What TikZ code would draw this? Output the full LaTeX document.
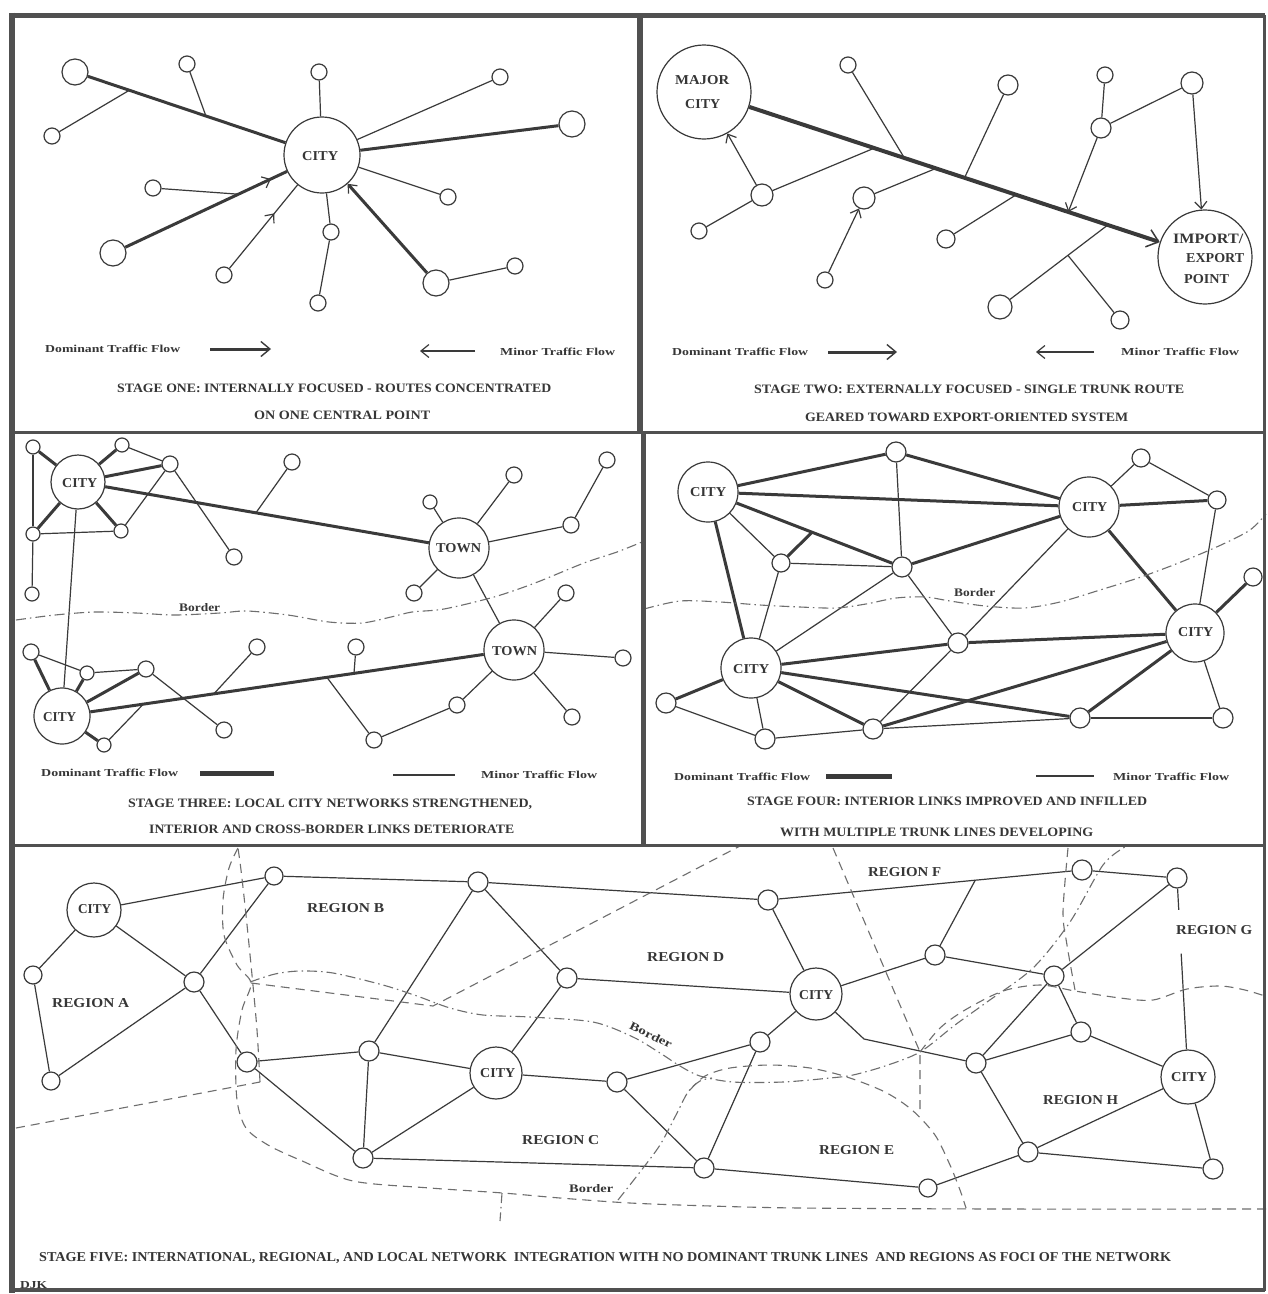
\documentclass[tikz,border=0pt]{standalone}
\usepackage{fontspec}
\setmainfont{Liberation Serif}
\usepackage{graphicx}
\usetikzlibrary{arrows.meta,decorations.markings,calc}
\definecolor{ink}{HTML}{3A3A3A}
\definecolor{framec}{HTML}{505050}
\definecolor{dashc}{HTML}{6E6E6E}
\definecolor{txtc}{HTML}{363636}
\newcommand\fitt[3]{\resizebox{#1pt}{#2pt}{\bfseries #3}}
\newcommand\fitr[3]{\resizebox{#1pt}{#2pt}{#3}}
\begin{document}
\begin{tikzpicture}[x=1pt,y=-1pt,
  mn/.style={draw=ink, line width=1.2pt},
  mj/.style={draw=ink, line width=3pt},
  tk/.style={draw=ink, line width=4pt},
  nd/.style={circle, draw=ink, line width=1.2pt, fill=white, inner sep=0pt, minimum size=#1},
  lab/.style={anchor=base west, inner sep=0pt, text=txtc},
  barb/.style={-{Straight Barb[length=7pt,width=12pt,line width=1.2pt]}},
  midarr/.style={postaction={decorate}, decoration={markings, mark=at position #1 with {\arrow{Straight Barb[length=7pt,width=12pt,line width=1.2pt]}}}},
  regb/.style={draw=dashc, line width=1.1pt, dash pattern=on 9pt off 6pt},
  bord/.style={draw=dashc, line width=1.1pt, dash pattern=on 10pt off 4pt on 1.5pt off 4pt},
]
\useasboundingbox (0,0) rectangle (1268,1294);
\fill[white] (0,0) rectangle (1268,1294);

% ================= PANEL 1 =================
\node[nd=76pt] (p1city) at (322,155) {};
\node[lab] (p1cityL) at (302,160.5) {\fitt{36}{9}{CITY}};
\node[nd=26pt] (n1a) at (75,72) {};
\node[nd=16pt] (n1b) at (52,136) {};
\node[nd=16pt] (n1c) at (187,64) {};
\node[nd=16pt] (n1d) at (319,72) {};
\node[nd=16pt] (n1e) at (500,77) {};
\node[nd=26pt] (n1f) at (572,124) {};
\node[nd=16pt] (n1g) at (153,188) {};
\node[nd=26pt] (n1h) at (113,253) {};
\node[nd=16pt] (n1i) at (224,275) {};
\node[nd=16pt] (n1j) at (331,232) {};
\node[nd=16pt] (n1k) at (318,303) {};
\node[nd=26pt] (n1l) at (436,283) {};
\node[nd=16pt] (n1m) at (515,266) {};
\node[nd=16pt] (n1n) at (448,197) {};
\coordinate (j1a) at ($(n1a)!0.22!(p1city)$);
\coordinate (j1b) at ($(n1a)!0.53!(p1city)$);
\coordinate (j1g) at ($(n1h)!0.6!(p1city)$);
\draw[mj] (n1a) -- (p1city);
\draw[mn] (n1b) -- (j1a);
\draw[mn] (n1c) -- (j1b);
\draw[mn] (n1d) -- (p1city);
\draw[mn] (n1e) -- (p1city);
\draw[mj] (n1f) -- (p1city);
\draw[mn] (n1g) -- (j1g);
\draw[mj, midarr=0.9] (n1h) -- (p1city);
\draw[mn, midarr=0.66] (n1i) -- (p1city);
\draw[mn] (p1city) -- (n1j);
\draw[mn] (n1j) -- (n1k);
\draw[mj, barb] (n1l) -- (p1city);
\draw[mn] (n1l) -- (n1m);
\draw[mn] (n1n) -- (p1city);
% legend
\node[lab] (l1a) at (45,352.75) {\fitr{135}{7.5}{\bfseries Dominant Traffic Flow}};
\coordinate (l1s) at (210,349); \coordinate (l1e) at (271,349);
\draw[mj, -{Straight Barb[length=9pt,width=15pt,line width=1.4pt]}] (l1s) -- (l1e);
\coordinate (l1ms) at (475,351); \coordinate (l1me) at (420,351);
\draw[mn, -{Straight Barb[length=8pt,width=13pt,line width=1.2pt]}] (l1ms) -- (l1me);
\node[lab] (l1b) at (500,355.75) {\fitr{115}{7.5}{\bfseries Minor Traffic Flow}};
\node[lab] (t1a) at (117,392.25) {\fitt{434}{8.5}{STAGE ONE: INTERNALLY FOCUSED - ROUTES CONCENTRATED}};
\node[lab] (t1b) at (254,419.25) {\fitt{176}{8.5}{ON ONE CENTRAL POINT}};

% ================= PANEL 2 =================
\node[nd=94pt] (p2maj) at (704,92) {};
\node[nd=94pt] (p2imp) at (1205,257) {};
\node[lab] (p2majA) at (675,84.5) {\fitt{54}{9}{MAJOR}};
\node[lab] (p2majB) at (685,108.5) {\fitt{35}{9}{CITY}};
\node[lab] (p2impA) at (1173,243.5) {\fitt{70}{9.5}{IMPORT/}};
\node[lab] (p2impB) at (1186,262.5) {\fitt{58}{9}{EXPORT}};
\node[lab] (p2impC) at (1184,283.5) {\fitt{45}{9}{POINT}};
\node[nd=16pt] (n2a) at (848,65) {};
\node[nd=20pt] (n2b) at (1008,85) {};
\node[nd=16pt] (n2c) at (1105,75) {};
\node[nd=20pt] (n2d) at (1101,128) {};
\node[nd=22pt] (n2e) at (1192,83) {};
\node[nd=22pt] (n2f) at (762,195) {};
\node[nd=16pt] (n2g) at (699,231) {};
\node[nd=22pt] (n2h) at (864,198) {};
\node[nd=16pt] (n2i) at (825,280) {};
\node[nd=18pt] (n2j) at (946,239) {};
\node[nd=24pt] (n2k) at (1000,307) {};
\node[nd=18pt] (n2l) at (1120,320) {};
\coordinate (j2a) at ($(p2maj)!0.40!(p2imp)$);
\coordinate (j2b) at ($(p2maj)!0.52!(p2imp)$);
\coordinate (j2f) at ($(p2maj)!0.34!(p2imp)$);
\coordinate (j2h) at ($(p2maj)!0.463!(p2imp)$);
\coordinate (j2j) at ($(p2maj)!0.623!(p2imp)$);
\coordinate (j2k) at ($(p2maj)!0.806!(p2imp)$);
\coordinate (j2d) at ($(p2maj)!0.727!(p2imp)$);
\coordinate (j2l) at ($(n2k)!0.63!(j2k)$);
\draw[tk, -{Straight Barb[length=11pt,width=18pt,line width=1.5pt]}] (p2maj) -- (p2imp);
\draw[mn] (n2a) -- (j2a);
\draw[mn] (n2b) -- (j2b);
\draw[mn] (n2c) -- (n2d);
\draw[mn] (n2d) -- (n2e);
\draw[mn, barb] (n2e) -- (p2imp);
\draw[mn, barb] (n2d) -- (j2d);
\draw[mn] (n2f) -- (j2f);
\draw[mn, barb] (n2f) -- (p2maj);
\draw[mn] (n2g) -- (n2f);
\draw[mn] (n2h) -- (j2h);
\draw[mn, barb] (n2i) -- (n2h);
\draw[mn] (n2j) -- (j2j);
\draw[mn] (n2k) -- (j2k);
\draw[mn] (n2l) -- (j2l);
% legend
\node[lab] (l2a) at (672,355.75) {\fitr{136}{7.5}{\bfseries Dominant Traffic Flow}};
\coordinate (l2s) at (828,352); \coordinate (l2e) at (897,352);
\draw[mj, -{Straight Barb[length=9pt,width=15pt,line width=1.4pt]}] (l2s) -- (l2e);
\coordinate (l2ms) at (1094,352); \coordinate (l2me) at (1036,352);
\draw[mn, -{Straight Barb[length=8pt,width=13pt,line width=1.2pt]}] (l2ms) -- (l2me);
\node[lab] (l2b) at (1121,355.75) {\fitr{118}{7.5}{\bfseries Minor Traffic Flow}};
\node[lab] (t2a) at (754,393.25) {\fitt{430}{8.5}{STAGE TWO: EXTERNALLY FOCUSED - SINGLE TRUNK ROUTE}};
\node[lab] (t2b) at (805,421.25) {\fitt{323}{8.5}{GEARED TOWARD EXPORT-ORIENTED SYSTEM}};

% ================= PANEL 3 =================
\node[nd=54pt] (p3c1) at (78,482) {};
\node[nd=56pt] (p3c2) at (62,716) {};
\node[nd=60pt] (p3t1) at (459,548) {};
\node[nd=60pt] (p3t2) at (514,650) {};
\node[lab] (p3c1L) at (62,487.5) {\fitt{35}{9}{CITY}};
\node[lab] (p3c2L) at (43,721.5) {\fitt{33}{9}{CITY}};
\node[lab] (p3t1L) at (436,552.5) {\fitt{45}{9}{TOWN}};
\node[lab] (p3t2L) at (492,655.5) {\fitt{45}{9}{TOWN}};
\node[nd=14pt] (s1) at (33,447) {};
\node[nd=14pt] (s2) at (122,445) {};
\node[nd=16pt] (s3) at (170,464) {};
\node[nd=14pt] (s4) at (33,534) {};
\node[nd=14pt] (s5) at (121,531) {};
\node[nd=14pt] (s6) at (32,594) {};
\node[nd=16pt] (s7) at (292,462) {};
\node[nd=16pt] (s8) at (234,557) {};
\node[nd=14pt] (s9) at (430,502) {};
\node[nd=16pt] (s10) at (514,475) {};
\node[nd=16pt] (s11) at (571,525) {};
\node[nd=16pt] (s12) at (607,460) {};
\node[nd=16pt] (s13) at (414,593) {};
\node[nd=16pt] (s14) at (566,593) {};
\node[nd=16pt] (s15) at (623,658) {};
\node[nd=16pt] (s16) at (572,717) {};
\node[nd=16pt] (s17) at (457,705) {};
\node[nd=16pt] (s18) at (374,740) {};
\node[nd=16pt] (s19) at (356,647) {};
\node[nd=16pt] (s20) at (31,652) {};
\node[nd=14pt] (s21) at (87,673) {};
\node[nd=16pt] (s22) at (146,669) {};
\node[nd=14pt] (s23) at (104,745) {};
\node[nd=16pt] (s24) at (224,730) {};
\node[nd=16pt] (s25) at (257,647) {};
\coordinate (j3a) at ($(p3c1)!0.467!(p3t1)$);
\coordinate (j3b) at ($(p3c2)!0.586!(p3t2)$);
\coordinate (j3c) at ($(p3c2)!0.646!(p3t2)$);
\coordinate (j3d) at ($(p3c2)!0.336!(p3t2)$);
\coordinate (j3e) at ($(p3c2)!0.18!(p3t2)$);
\draw[mj] (s1) -- (p3c1);
\draw[mj] (s2) -- (p3c1);
\draw[mj] (p3c1) -- (s3);
\draw[mj] (p3c1) -- (s4);
\draw[mj] (p3c1) -- (s5);
\draw[mj] (p3c1) -- (p3t1);
\draw[mj] (s20) -- (p3c2);
\draw[mj] (s21) -- (p3c2);
\draw[mj] (p3c2) -- (s22);
\draw[mj] (s23) -- (p3c2);
\draw[mj] (p3c2) -- (p3t2);
\draw[mn] (s2) -- (s3);
\draw[mn] (s3) -- (s5);
\draw[mn] (s3) -- (s8);
\draw[mn] (s1) -- (s4);
\draw[mn] (s4) -- (s5);
\draw[mn] (s4) -- (s6);
\draw[mn] (p3c1) -- (p3c2);
\draw[mn] (s7) -- (j3a);
\draw[mn] (s9) -- (p3t1);
\draw[mn] (s10) -- (p3t1);
\draw[mn] (s11) -- (p3t1);
\draw[mn] (s11) -- (s12);
\draw[mn] (s13) -- (p3t1);
\draw[mn] (p3t1) -- (p3t2);
\draw[mn] (s14) -- (p3t2);
\draw[mn] (s15) -- (p3t2);
\draw[mn] (s16) -- (p3t2);
\draw[mn] (s17) -- (p3t2);
\draw[mn] (s17) -- (s18);
\draw[mn] (s18) -- (j3b);
\draw[mn] (s19) -- (j3c);
\draw[mn] (s20) -- (s21);
\draw[mn] (s21) -- (s22);
\draw[mn] (s22) -- (s24);
\draw[mn] (s25) -- (j3d);
\draw[mn] (s23) -- (j3e);
\draw[bord] plot[smooth] coordinates {(16,620) (55,615) (95,612) (136,613) (175,615) (220,613) (247,611) (288,615) (329,622) (362,623) (391,617) (412,612) (444,609) (494,597) (535,583) (584,563) (617,552) (642,542)};
\node[lab] (p3bd) at (179,611) {\fitr{41}{8}{\bfseries Border}};
% legend
\node[lab] (l3a) at (41,776.75) {\fitr{137}{7.5}{\bfseries Dominant Traffic Flow}};
\coordinate (l3s) at (200,773); \coordinate (l3e) at (274,773);
\draw[draw=ink, line width=5pt] (l3s) -- (l3e);
\coordinate (l3ms) at (393,775); \coordinate (l3me) at (455,775);
\draw[mn] (l3ms) -- (l3me);
\node[lab] (l3b) at (481,778.75) {\fitr{116}{7.5}{\bfseries Minor Traffic Flow}};
\node[lab] (t3a) at (128,807.25) {\fitt{404}{8.5}{STAGE THREE: LOCAL CITY NETWORKS STRENGTHENED,}};
\node[lab] (t3b) at (149,833.25) {\fitt{365}{8.5}{INTERIOR AND CROSS-BORDER LINKS DETERIORATE}};

% ================= PANEL 4 =================
\node[nd=60pt] (p4a) at (708,492) {};
\node[nd=60pt] (p4b) at (1089,507) {};
\node[nd=60pt] (p4c) at (751,668) {};
\node[nd=58pt] (p4d) at (1195,633) {};
\node[lab] (p4aL) at (690,496.5) {\fitt{36}{9}{CITY}};
\node[lab] (p4bL) at (1072,511.5) {\fitt{35}{9}{CITY}};
\node[lab] (p4cL) at (733,673.5) {\fitt{36}{9}{CITY}};
\node[lab] (p4dL) at (1178,636.5) {\fitt{35}{9}{CITY}};
\node[nd=20pt] (q1) at (896,452) {};
\node[nd=18pt] (q2) at (1141,458) {};
\node[nd=18pt] (q3) at (1217,500) {};
\node[nd=18pt] (q4) at (781,563) {};
\node[nd=20pt] (q5) at (902,567) {};
\node[nd=18pt] (q6) at (1253,577) {};
\node[nd=20pt] (q7) at (958,643) {};
\node[nd=20pt] (q8) at (666,703) {};
\node[nd=20pt] (q9) at (765,739) {};
\node[nd=20pt] (q10) at (873,729) {};
\node[nd=20pt] (q11) at (1080,718) {};
\node[nd=20pt] (q12) at (1223,718) {};
\coordinate (j4) at ($(p4a)!0.536!(q5)$);
\draw[mj] (p4a) -- (q1);
\draw[mj] (q1) -- (p4b);
\draw[mj] (p4a) -- (p4b);
\draw[mj] (p4a) -- (q5);
\draw[mj] (q5) -- (p4b);
\draw[mj] (p4b) -- (q3);
\draw[mj] (q4) -- (j4);
\draw[mj] (p4a) -- (p4c);
\draw[mj] (p4c) -- (q7);
\draw[mj] (q7) -- (p4d);
\draw[mj] (p4c) -- (q11);
\draw[mj] (q10) -- (p4d);
\draw[mj] (q11) -- (p4d);
\draw[mj] (p4b) -- (p4d);
\draw[mj] (p4d) -- (q6);
\draw[mj] (p4c) -- (q8);
\draw[mj] (p4c) -- (q10);
\draw[mn] (q1) -- (q5);
\draw[mn] (p4b) -- (q2);
\draw[mn] (q2) -- (q3);
\draw[mn] (p4a) -- (q4);
\draw[mn] (q4) -- (q5);
\draw[mn] (q4) -- (p4c);
\draw[mn] (p4c) -- (q5);
\draw[mn] (q5) -- (q7);
\draw[mn] (q10) -- (q7);
\draw[mn] (q7) -- (p4b);
\draw[mn] (q3) -- (p4d);
\draw[mn] (p4d) -- (q12);
\draw[mn] (q11) -- (q12);
\draw[mn] (q10) -- (q11);
\draw[mn] (q8) -- (q9);
\draw[mn] (p4c) -- (q9);
\draw[mn] (q9) -- (q10);
\draw[bord] plot[smooth] coordinates {(644,609) (680,601) (720,602) (760,605) (800,607) (836,608) (866,604) (896,598) (925,597) (950,601) (985,606) (1024,608) (1060,602) (1100,590) (1141,577) (1181,562) (1221,545) (1250,530) (1266,514)};
\node[lab] (p4bd) at (954,596) {\fitr{41}{8}{\bfseries Border}};
% legend
\node[lab] (l4a) at (674,780.75) {\fitr{136}{7.5}{\bfseries Dominant Traffic Flow}};
\coordinate (l4s) at (826,776); \coordinate (l4e) at (892,776);
\draw[draw=ink, line width=5pt] (l4s) -- (l4e);
\coordinate (l4ms) at (1036,776); \coordinate (l4me) at (1094,776);
\draw[mn] (l4ms) -- (l4me);
\node[lab] (l4b) at (1113,780.75) {\fitr{116}{7.5}{\bfseries Minor Traffic Flow}};
\node[lab] (t4a) at (747,805.25) {\fitt{400}{8.5}{STAGE FOUR: INTERIOR LINKS IMPROVED AND INFILLED}};
\node[lab] (t4b) at (780,836.25) {\fitt{313}{8.5}{WITH MULTIPLE TRUNK LINES DEVELOPING}};

% ================= PANEL 5 =================
\node[nd=54pt] (p5c1) at (94,910) {};
\node[nd=52pt] (p5c2) at (496,1073) {};
\node[nd=52pt] (p5c3) at (816,994) {};
\node[nd=54pt] (p5c4) at (1188,1077) {};
\node[lab] (p5c1L) at (78,913.5) {\fitt{33}{9}{CITY}};
\node[lab] (p5c2L) at (480,1077.5) {\fitt{35}{9}{CITY}};
\node[lab] (p5c3L) at (799,999.5) {\fitt{34}{9}{CITY}};
\node[lab] (p5c4L) at (1171,1081.5) {\fitt{36}{9}{CITY}};
\node[nd=18pt] (r1) at (33,975) {};
\node[nd=18pt] (r2) at (51,1081) {};
\node[nd=20pt] (r3) at (194,982) {};
\node[nd=18pt] (r4) at (274,876) {};
\node[nd=20pt] (r5) at (478,882) {};
\node[nd=20pt] (r6) at (247,1062) {};
\node[nd=20pt] (r7) at (369,1051) {};
\node[nd=20pt] (r8) at (363,1158) {};
\node[nd=20pt] (r9) at (567,978) {};
\node[nd=20pt] (r10) at (617,1082) {};
\node[nd=20pt] (r11) at (768,900) {};
\node[nd=20pt] (r12) at (935,955) {};
\node[nd=20pt] (r13) at (1082,870) {};
\node[nd=20pt] (r14) at (1177,878) {};
\node[nd=20pt] (r15) at (1054,976) {};
\node[nd=20pt] (r16) at (760,1042) {};
\node[nd=20pt] (r17) at (1081,1032) {};
\node[nd=20pt] (r18) at (976,1063) {};
\node[nd=20pt] (r19) at (704,1168) {};
\node[nd=18pt] (r20) at (928,1188) {};
\node[nd=20pt] (r21) at (1028,1152) {};
\node[nd=20pt] (r22) at (1213,1169) {};
\coordinate (j5a) at ($(r11)!0.66!(r13)$);
\coordinate (b5) at (864,1039);
\coordinate (g5a) at ($(r14)!0.16!(p5c4)$);
\coordinate (g5b) at ($(r14)!0.38!(p5c4)$);
\draw[mn] (p5c1) -- (r4);
\draw[mn] (p5c1) -- (r1);
\draw[mn] (p5c1) -- (r3);
\draw[mn] (r1) -- (r2);
\draw[mn] (r2) -- (r3);
\draw[mn] (r3) -- (r4);
\draw[mn] (r3) -- (r6);
\draw[mn] (r4) -- (r5);
\draw[mn] (r5) -- (r7);
\draw[mn] (r5) -- (r9);
\draw[mn] (r5) -- (r11);
\draw[mn] (r6) -- (r7);
\draw[mn] (r6) -- (r8);
\draw[mn] (r7) -- (r8);
\draw[mn] (r7) -- (p5c2);
\draw[mn] (r8) -- (p5c2);
\draw[mn] (r8) -- (r19);
\draw[mn] (r9) -- (p5c3);
\draw[mn] (r9) -- (p5c2);
\draw[mn] (p5c2) -- (r10);
\draw[mn] (r10) -- (r16);
\draw[mn] (r10) -- (r19);
\draw[mn] (r16) -- (r19);
\draw[mn] (r16) -- (p5c3);
\draw[mn] (r11) -- (p5c3);
\draw[mn] (r11) -- (r13);
\draw[mn] (r13) -- (r14);
\draw[mn] (r14) -- (r15);
\draw[mn] (r15) -- (r17);
\draw[mn] (r15) -- (r12);
\draw[mn] (r12) -- (p5c3);
\draw[mn] (r12) -- (j5a);
\draw[mn] (r15) -- (r18);
\draw[mn] (p5c3) -- (b5) -- (r18);
\draw[mn] (r18) -- (r17);
\draw[mn] (r17) -- (p5c4);
\draw[mn] (r18) -- (r21);
\draw[mn] (r21) -- (p5c4);
\draw[mn] (r21) -- (r22);
\draw[mn] (p5c4) -- (r22);
\draw[mn] (r14) -- (g5a);
\draw[mn] (g5b) -- (p5c4);
\draw[mn] (r19) -- (r20);
\draw[mn] (r20) -- (r21);
% region boundaries (dashed)
\draw[regb] (16,1128) -- (260,1082);
\draw[regb] plot[smooth] coordinates {(260,1082) (257,1030) (252,975) (246,915) (241,870) (238,848)};
\draw[regb] plot[smooth] coordinates {(238,848) (229,868) (223,900) (224,935) (237,965) (251,983) (242,1010) (236,1050) (237,1100) (246,1128) (268,1145) (300,1160) (353,1181) (430,1188) (503,1193) (560,1198) (630,1203) (711,1206) (800,1208) (1000,1209) (1268,1209)};
\draw[regb] (251,983) -- (433,1006) -- (740,846);
\draw[regb] plot[smooth] coordinates {(690,1090) (705,1076) (730,1068) (770,1065) (810,1068) (847,1077) (885,1092) (912,1110) (935,1135) (950,1165) (960,1190) (966,1208)};
\draw[regb] (833,848) -- (920,1052) -- (920,1112);
\draw[regb] plot[smooth] coordinates {(920,1052) (940,1028) (965,1010) (1003,991) (1040,985) (1075,991) (1120,998) (1153,1000) (1187,989) (1220,986) (1245,990) (1268,997)};
\draw[regb] plot[smooth] coordinates {(1068,848) (1063,912) (1067,945) (1075,990)};
% international borders (dash-dot)
\draw[bord] plot[smooth] coordinates {(250,982) (275,974) (300,971) (333,973) (383,985) (417,996) (450,1008) (483,1015) (530,1017) (593,1022) (633,1037) (660,1053) (680,1066) (700,1076) (733,1082) (783,1082) (830,1078) (853,1075) (885,1066) (920,1052) (955,1025) (987,1002) (1033,968) (1070,922) (1103,865) (1125,847)};
\draw[bord] (502,1193) -- (500,1221);
\draw[bord] plot[smooth] coordinates {(618,1200) (640,1172) (660,1145) (676,1115) (688,1092) (700,1081) (712,1078)};
\node[lab] (p5bd1) at (569,1192) {\fitr{44}{8}{\bfseries Border}};
\node[rotate=-26, inner sep=0pt, text=txtc] (p5bd2) at (651,1035) {\fitr{46}{8}{\bfseries Border}};
% region labels
\node[lab] (rgA) at (52,1007.5) {\fitt{77}{9}{REGION A}};
\node[lab] (rgB) at (307,912.5) {\fitt{77}{9}{REGION B}};
\node[lab] (rgC) at (522,1144.5) {\fitt{77}{9}{REGION C}};
\node[lab] (rgD) at (647,961.5) {\fitt{77}{9}{REGION D}};
\node[lab] (rgE) at (819,1154.5) {\fitt{75}{9}{REGION E}};
\node[lab] (rgF) at (868,876.5) {\fitt{73}{9}{REGION F}};
\node[lab] (rgG) at (1176,934.5) {\fitt{76}{9}{REGION G}};
\node[lab] (rgH) at (1043,1104.5) {\fitt{75}{9}{REGION H}};
\node[lab] (t5) at (39,1261.5) {\fitt{1132}{9}{STAGE FIVE: INTERNATIONAL, REGIONAL, AND LOCAL NETWORK\ \ INTEGRATION WITH NO DOMINANT TRUNK LINES\ \ AND REGIONS AS FOCI OF THE NETWORK}};
\node[lab] (djk) at (20,1288) {\fitt{27}{7}{DJK}};

% ================= FRAME =================
\draw[framec, line width=5pt] (12,15) -- (1265,15);
\draw[framec, line width=6pt] (12,12.5) -- (12,1293);
\draw[framec, line width=3pt] (1264,15) -- (1264,1291);
\draw[framec, line width=4pt] (12,1290) -- (1265,1290);
\draw[framec, line width=6pt] (640,15) -- (640,432);
\draw[framec, line width=5pt] (643,432) -- (643,845);
\draw[framec, line width=3pt] (12,432) -- (1264,432);
\draw[framec, line width=3pt] (12,845) -- (1264,845);
\end{tikzpicture}
\end{document}
